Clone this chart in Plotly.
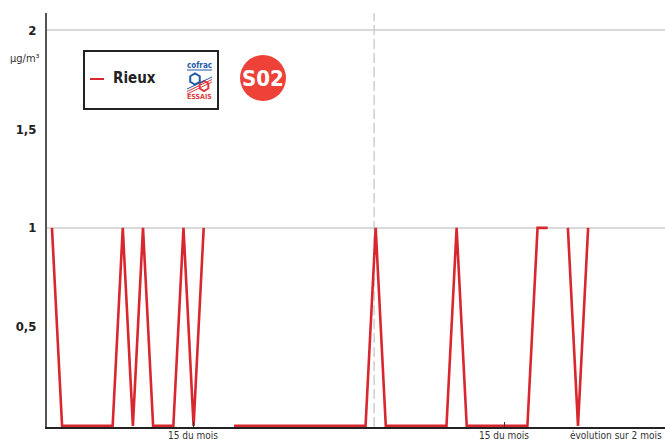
import plotly.graph_objects as go
import math

# ---- data ----
days = list(range(0, 56))
rieux = [1, 0, 0, 0, 0, 0, 0, 1, 0, 1, 0, 0, 0, 1, 0, 1, None, None,
         0, 0, 0, 0, 0, 0, 0, 0, 0, 0, 0, 0, 0, 0, 1,
         0, 0, 0, 0, 0, 0, 0, 1,
         0, 0, 0, 0, 0, 0, 0, 1, 1, None, 1, 0, 1, None, None]
xtick_vals = [13.95, 44.7]
xtick_text = ["15 du mois", "15 du mois"]
ytick_vals = [0.5, 1, 1.5, 2]
ytick_text = ["0,5", "1", "1,5", "2"]
month_split = 31.85
series_name = "Rieux"
pollutant = "S02"
unit = "µg/m³"
period_label = "évolution sur 2 mois"

W, H = 665, 441
L, R, T, B = 47, 0, 13, 14
PW, PH = W - L - R, H - T - B
XR = [-0.49, 60.6]
YR = [-0.006, 2.086]

def px(x):
    return (x - L) / PW

def py(y):
    return (H - B - y) / PH

FONT = "DejaVu Sans Condensed, Liberation Sans Narrow, sans-serif"
RED = "#d8272f"

fig = go.Figure()
fig.add_trace(go.Scatter(x=days, y=rieux, mode="lines", name=series_name,
                         line=dict(color=RED, width=2.6), connectgaps=False,
                         showlegend=False, hoverinfo="skip"))

shapes = []
for g in [1, 2]:
    shapes.append(dict(type="line", xref="paper", yref="y", x0=0, x1=1, y0=g, y1=g,
                       line=dict(color="#cccccc", width=1.5), layer="below"))
shapes.append(dict(type="line", xref="x", yref="paper", x0=month_split, x1=month_split,
                   y0=0, y1=1, line=dict(color="#cfcfcf", width=1.5, dash="10px,4px"),
                   layer="below"))
# legend box
shapes.append(dict(type="rect", xref="paper", yref="paper", x0=px(84), x1=px(218),
                   y0=py(109), y1=py(51), line=dict(color="#222222", width=2),
                   fillcolor="white"))
shapes.append(dict(type="line", xref="paper", yref="paper", x0=px(90), x1=px(104),
                   y0=py(79), y1=py(79), line=dict(color=RED, width=2)))

def hexagon(cx, cy, r):
    pts = []
    for k in range(6):
        a = math.pi / 6 + k * math.pi / 3
        pts.append((px(cx + r * math.cos(a)), py(cy + r * math.sin(a))))
    return "M " + " L ".join(f"{a:.5f},{b:.5f}" for a, b in pts) + " Z"

shapes.append(dict(type="path", xref="paper", yref="paper", path=hexagon(195, 79, 5.5),
                   line=dict(color="#1f5aa8", width=2)))
shapes.append(dict(type="path", xref="paper", yref="paper", path=hexagon(204, 86, 5),
                   line=dict(color="#e03a3e", width=2)))
for k in range(3):
    shapes.append(dict(type="line", xref="paper", yref="paper",
                       x0=px(187), y0=py(89 + k * 2.5), x1=px(212), y1=py(77 + k * 2.5),
                       line=dict(color="#1f5aa8" if k == 0 else "#e03a3e", width=1)))
shapes.append(dict(type="line", xref="paper", yref="paper", x0=px(187), x1=px(212),
                   y0=py(70), y1=py(70), line=dict(color="#1f5aa8", width=1)))
shapes.append(dict(type="circle", xref="paper", yref="paper", x0=px(240), x1=px(286),
                   y0=py(101), y1=py(55), fillcolor="#ee4137", line=dict(width=0)))

annotations = [
    dict(text=unit, xref="paper", yref="paper", x=px(42), y=py(58), xanchor="right",
         yanchor="middle", showarrow=False, font=dict(family=FONT, size=11, color="#333")),
    dict(text="<b>" + series_name + "</b>", xref="paper", yref="paper", x=px(111), y=py(78),
         xanchor="left", yanchor="middle", showarrow=False,
         font=dict(family=FONT, size=15, color="#222")),
    dict(text="<b>cofrac</b>", xref="paper", yref="paper", x=px(199.5), y=py(65),
         xanchor="center", yanchor="middle", showarrow=False,
         font=dict(family=FONT, size=8, color="#1f5aa8")),
    dict(text="<b>ESSAIS</b>", xref="paper", yref="paper", x=px(199.5), y=py(97),
         xanchor="center", yanchor="middle", showarrow=False,
         font=dict(family=FONT, size=7, color="#e03a3e")),
    dict(text="<b>" + pollutant + "</b>", xref="paper", yref="paper", x=px(263), y=py(78.5),
         xanchor="center", yanchor="middle", showarrow=False,
         font=dict(family=FONT, size=22, color="white")),
    dict(text=period_label, xref="paper", yref="paper", x=px(664), y=py(428),
         xanchor="right", yanchor="top", showarrow=False,
         font=dict(family=FONT, size=10, color="#333")),
]
for v, t in zip(xtick_vals, xtick_text):
    annotations.append(dict(text=t, xref="x", yref="paper", x=v, y=py(428),
                            xanchor="center", yanchor="top", showarrow=False,
                            font=dict(family=FONT, size=10, color="#333")))

fig.update_layout(
    width=W, height=H, margin=dict(l=L, r=R, t=T, b=B, pad=0, autoexpand=False),
    paper_bgcolor="white", plot_bgcolor="white",
    shapes=shapes, annotations=annotations, showlegend=False,
    xaxis=dict(range=XR, tickvals=xtick_vals, showticklabels=False, showgrid=False,
               zeroline=False, showline=True, linecolor="#222", linewidth=1.5,
               ticks="inside", ticklen=5, tickcolor="#333", tickwidth=1,
               automargin=False),
    yaxis=dict(range=YR, tickvals=ytick_vals, ticktext=ytick_text, showgrid=False,
               zeroline=False, showline=True, linecolor="#555", linewidth=2,
               ticks="", ticklabelstandoff=6, automargin=False,
               tickfont=dict(family=FONT, size=13, color="#222", weight="bold")),
)

fig.write_html("out.html", config={"displayModeBar": False},
               post_script="document.body.style.margin='0';document.body.style.overflow='hidden';")
